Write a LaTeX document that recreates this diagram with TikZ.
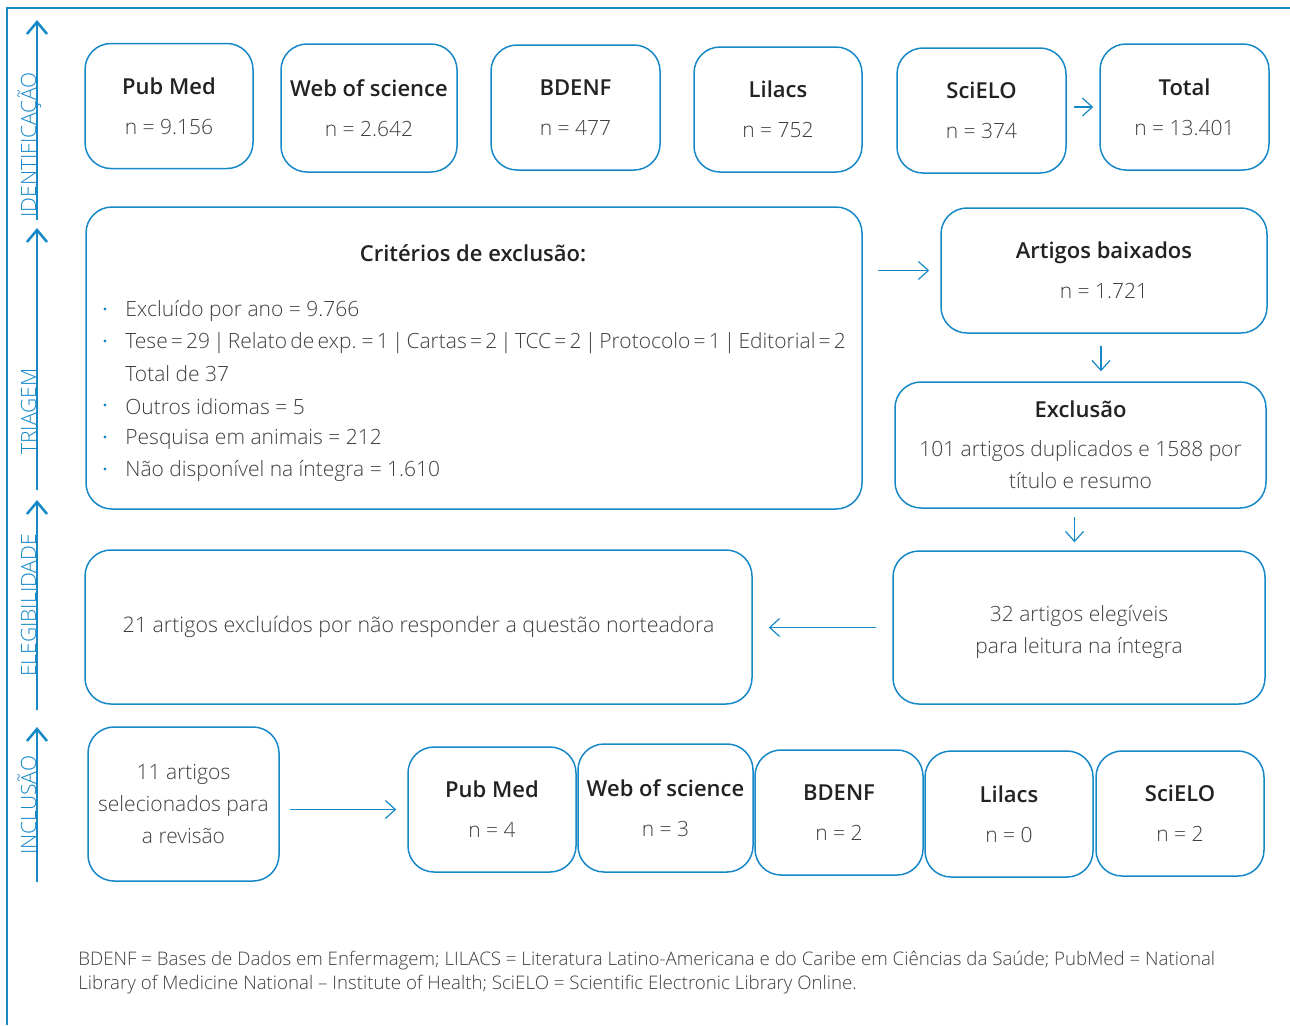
\documentclass[tikz,border=0pt]{standalone}
\usepackage{fontspec}
\setmainfont{Open Sans}[UprightFont={* Light},BoldFont={* Semibold}]
\usetikzlibrary{arrows.meta}
\usetikzlibrary{calc}
\usetikzlibrary{positioning}
\definecolor{flowblue}{RGB}{22,136,200}
\definecolor{bodygray}{RGB}{62,62,62}
\definecolor{titlegray}{RGB}{34,34,34}
\tikzset{dbbox/.style={draw=flowblue,line width=0.75pt,rounded corners=13pt,align=center,text=bodygray,font=\fontsize{10.5}{16}\selectfont,inner sep=0pt}}
\tikzset{flowarrow/.style={draw=flowblue,line width=0.6pt,-{Straight Barb[length=5pt,width=9pt]}}}
\tikzset{axisarrow/.style={draw=flowblue,line width=1.25pt,-{Straight Barb[length=6pt,width=10pt]}}}
\tikzset{axislabel/.style={rotate=90,anchor=base west,inner sep=0pt,text=flowblue,font=\fontsize{10.5}{12}\selectfont}}
\tikzset{listline/.style={anchor=west,inner sep=0pt,text=bodygray,font=\fontsize{10.5}{16}\selectfont}}
\tikzset{bulletdot/.style={circle,fill=flowblue,inner sep=0pt,minimum size=1.6pt}}
\newcommand{\boxtitle}[1]{{\fontsize{11}{16}\selectfont\bfseries\color{titlegray}#1}}

\begin{document}
\begin{tikzpicture}[x=0.5pt,y=-0.5pt]
\useasboundingbox (0,0) rectangle (1290,1025);

% frame
\draw[flowblue,line width=0.6pt] (1290,8) -- (7,8) -- (7,1025);

% stages on the left
\foreach \s/\ybot/\ytop/\ylab/\txt in {ident/220/20/218/IDENTIFICAÇÃO,tri/490/228/455/TRIAGEM,eleg/710/500/677/ELEGIBILIDADE,incl/882/727/855/INCLUSÃO}
{
	\coordinate (\s0) at (37,\ybot);
	\coordinate (\s1) at (37,\ytop);
	\draw[axisarrow] (\s0) -- (\s1);
	\node[axislabel] (lab\s) at (36,\ylab) {\txt};
}

% identification
\foreach \nm/\cx/\cy/\w/\h/\ttl/\val in {pubmed/169/106/84/62.5/Pub Med/9.156,wos/369/108/88/64/Web of science/2.642,bdenf/575.5/107.5/84.5/62.5/BDENF/477,lilacs/778/109.5/84/62.5/Lilacs/752,scielo/981.5/110.5/84.5/62.5/SciELO/374,total/1184.5/107/84.5/63/Total/13.401}
{
	\node[dbbox,minimum width=\w pt,minimum height=\h pt] (\nm) at (\cx,\cy) {\boxtitle{\ttl}\\[4pt]n = \val};
}
\draw[flowarrow,shorten <=3.5pt,shorten >=3pt] (scielo.east |- total.west) -- (total.west);

% screening
\node[dbbox,minimum width=388pt,minimum height=151pt] (crit) at (474,358) {};
\node (crittitle) at (473,253) {\boxtitle{Critérios de exclusão:}};
\foreach \k/\yy/\txt in {1/311/Excluído por ano = 9.766,2/343/{\spaceskip=1.6pt\relax Tese = 29 | Relato de exp. = 1 | Cartas = 2 | TCC = 2 | Protocolo = 1 | Editorial = 2},4/407/Outros idiomas = 5,5/439/Pesquisa em animais = 212,6/471/Não disponível na íntegra = 1.610}
{
	\node[bulletdot] (dot\k) at (105,\yy-2) {};
	\node[listline] (item\k) at (125,\yy) {\txt};
}
\node[listline] (item3) at (125,374) {Total de 37};

\node[dbbox,minimum width=163pt,minimum height=62.5pt] (baix) at (1104,270.5) {\boxtitle{Artigos baixados}\\[4pt]n = 1.721};
\node[dbbox,minimum width=185.5pt,minimum height=63pt] (excl) at (1080.5,445) {\boxtitle{Exclusão}\\[3.5pt]101 artigos duplicados e 1588 por\\título e resumo};
\draw[flowarrow,shorten <=7.5pt,shorten >=5.5pt] (crit.east |- baix.west) -- (baix.west);
\draw[flowarrow,shorten <=6pt,shorten >=5pt] ([xshift=-1.5pt]baix.south) -- ([xshift=-1.5pt]baix.south |- excl.north);

% eligibility
\node[dbbox,minimum width=186pt,minimum height=76.5pt] (elig) at (1079,627.5) {\\[-3pt]32 artigos elegíveis\\para leitura na íntegra};
\node[dbbox,minimum width=333.5pt,minimum height=77pt,font=\fontsize{10.7}{16}\selectfont] (excl21) at (418.5,627) {21 artigos excluídos por não responder a questão norteadora};
\draw[flowarrow,shorten <=4pt,shorten >=4pt] ([xshift=-3pt]excl.south) -- ([xshift=-3pt]excl.south |- elig.north);
\draw[flowarrow,shorten <=8pt,shorten >=8pt] (elig.west) -- (excl21.east |- elig.west);

% inclusion
\node[dbbox,minimum width=95.5pt,minimum height=77pt] (sel) at (183.5,804) {11 artigos\\selecionados para\\a revisão};
\foreach \nm/\cx/\cy/\w/\h/\ttl/\val in {incpubmed/492/809.5/84/62.5/Pub Med/4,incwos/665.5/808/87.5/64/Web of science/3,incbdenf/839/812.5/84/62.5/BDENF/2,inclilacs/1009/814/84/63/Lilacs/0,incscielo/1180/813.5/84/62.5/SciELO/2}
{
	\node[dbbox,minimum width=\w pt,minimum height=\h pt] (\nm) at (\cx,\cy) {\boxtitle{\ttl}\\[4pt]n = \val};
}
\draw[flowarrow,shorten <=5pt,shorten >=5.5pt] (sel.east |- incpubmed.west) -- (incpubmed.west);

% note
\node[anchor=north west,align=left,inner sep=0pt,text=bodygray,font=\fontsize{9.35}{12}\selectfont] (note) at (78,951) {BDENF = Bases de Dados em Enfermagem; LILACS = Literatura Latino-Americana e do Caribe em Ciências da Saúde; PubMed = National\\Library of Medicine National -- Institute of Health; SciELO = Scientific Electronic Library Online.};

\end{tikzpicture}
\end{document}
